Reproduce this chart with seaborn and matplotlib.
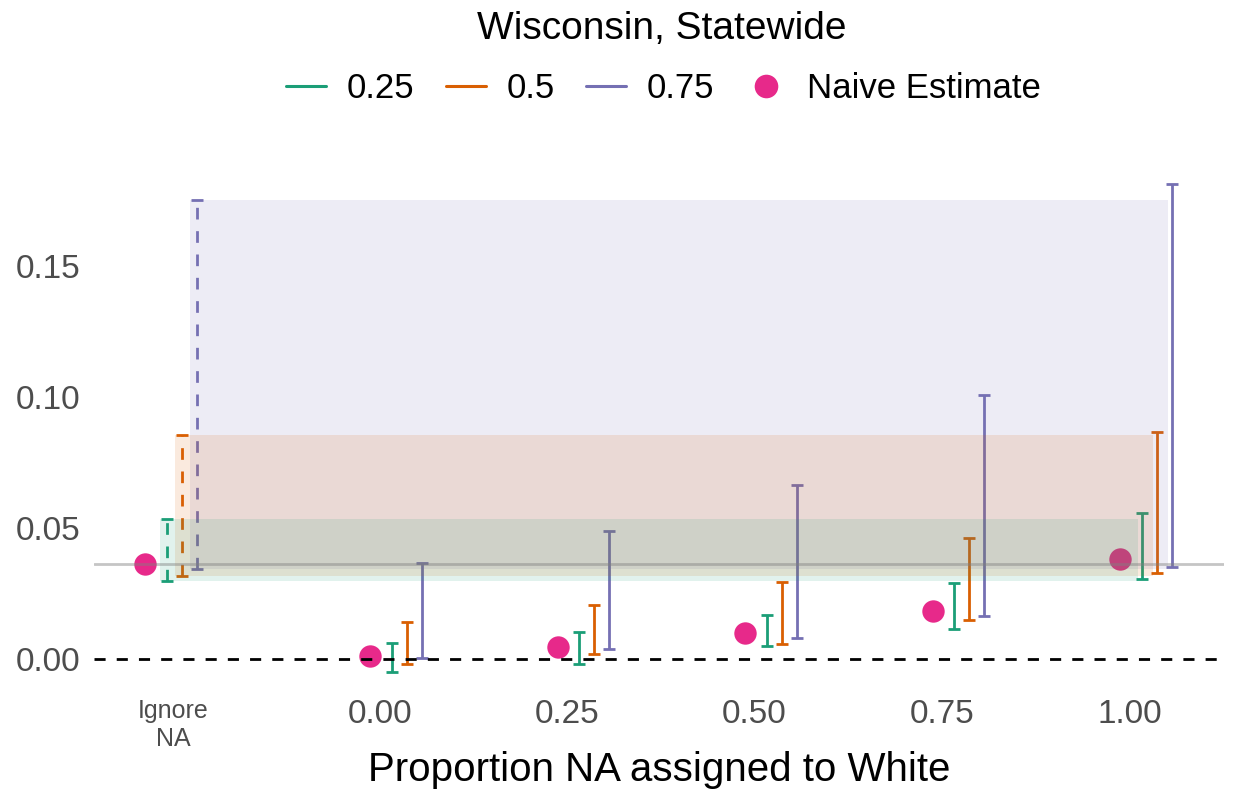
import matplotlib
matplotlib.use("Agg")
import matplotlib.pyplot as plt
from matplotlib.lines import Line2D
import pandas as pd
import seaborn as sns

# Values
x_labels = ["Ignore\nNA", "0.00", "0.25", "0.50", "0.75", "1.00"]
x_pos = [-0.3, 0.0, 0.25, 0.5, 0.75, 1.0]
naive = [0.0363, 0.0011, 0.0046, 0.0099, 0.0183, 0.0382]

levels = ["0.25", "0.5", "0.75"]
lower_25 = [0.0298, -0.0050, -0.0019, 0.0050, 0.0115, 0.0305]
upper_25 = [0.0534, 0.0061, 0.0103, 0.0168, 0.0290, 0.0557]
lower_50 = [0.0317, -0.0019, 0.0019, 0.0057, 0.0149, 0.0328]
upper_50 = [0.0855, 0.0141, 0.0206, 0.0294, 0.0462, 0.0866]
lower_75 = [0.0344, 0.0004, 0.0038, 0.0080, 0.0164, 0.0351]
upper_75 = [0.1752, 0.0366, 0.0489, 0.0664, 0.1008, 0.1813]

y_ticks = [0.0, 0.05, 0.10, 0.15]

# Styling
COLORS = ["#1B9E77", "#D95F02", "#7570B3"]
PINK = "#E7298A"
DOT_OFFSET = -0.0125
BAR_OFFSETS = [0.016, 0.036, 0.056]
TEXT_GREY = "#4D4D4D"

sns.set_theme(style="white")
plt.rcParams["font.family"] = ["Liberation Sans", "DejaVu Sans"]
plt.rcParams["text.color"] = "black"

fig = plt.figure(figsize=(12.33, 7.92), dpi=100)
ax = fig.add_axes([0.0762, 0.1212, 0.9165, 0.6768])

# Naive estimates (drawn first, sit under the bands)
df_naive = pd.DataFrame({"x": [p + DOT_OFFSET for p in x_pos], "estimate": naive})
sns.scatterplot(data=df_naive, x="x", y="estimate", color=PINK, s=260,
                linewidth=0, ax=ax, zorder=1, legend=False)

lowers = [lower_25, lower_50, lower_75]
uppers = [upper_25, upper_50, upper_75]

for color, off, lo, hi in zip(COLORS, BAR_OFFSETS, lowers, uppers):
    xs = [p + off for p in x_pos]
    # Ignore NA interval is dashed
    eb = ax.errorbar(xs[:1], lo[:1], yerr=[[0], [hi[0] - lo[0]]], fmt="none",
                     ecolor=color, elinewidth=2.0, capsize=4.5, capthick=2.0, zorder=2)
    eb[2][0].set_linestyle((0, (4.2, 4.2)))
    ax.errorbar(xs[1:], lo[1:], yerr=[[0] * (len(xs) - 1), [h - l for h, l in zip(hi[1:], lo[1:])]],
                fmt="none", ecolor=color, elinewidth=2.0, capsize=4.5, capthick=2.0, zorder=2)

# Shaded bands: Ignore NA interval carried across
for color, off, lo, hi in zip(COLORS[::-1], BAR_OFFSETS[::-1], lowers[::-1], uppers[::-1]):
    ax.fill_between([x_pos[0] + off - 0.009, x_pos[-1] + off - 0.005], lo[0], hi[0],
                    color=color, alpha=0.13, linewidth=0, zorder=3)

ax.axhline(naive[0], color="grey", alpha=0.45, linewidth=2, zorder=4)
ax.axhline(0, color="black", linewidth=2, linestyle=(0, (4, 4)), zorder=4)

ax.set_xlim(-0.381, 1.126)
ax.set_ylim(-0.0143, 0.1906)
ax.set_xticks([-0.275] + x_pos[1:])
ax.set_xticklabels(x_labels)
ax.set_yticks(y_ticks)
ax.set_yticklabels([f"{v:.2f}" for v in y_ticks])
ax.tick_params(axis="both", length=0, labelsize=24, labelcolor=TEXT_GREY)
ax.tick_params(axis="x", pad=2)
ax.tick_params(axis="y", pad=10)
ax.get_xticklabels()[0].set_fontsize(18)
ax.set_ylabel("")
ax.set_xlabel("Proportion NA assigned to White", fontsize=29, color="black", labelpad=0)
sns.despine(ax=ax, left=True, bottom=True)

fig.text(0.537, 1 - 29 / 792, "Wisconsin, Statewide", fontsize=28,
         color="black", ha="center", va="center")

handles = [Line2D([0], [0], color=c, lw=2.2) for c in COLORS]
handles.append(Line2D([0], [0], marker="o", color="none", markerfacecolor=PINK,
                      markeredgewidth=0, markersize=17))
leg = fig.legend(handles, levels + ["Naive Estimate"], loc="center", ncol=4,
                 bbox_to_anchor=(0.538, 1 - 89 / 792), frameon=False, fontsize=25,
                 handlelength=1.15, handletextpad=0.6, columnspacing=0.9)
for t in leg.get_texts():
    t.set_color("black")

fig.savefig("out.png", dpi=100)
